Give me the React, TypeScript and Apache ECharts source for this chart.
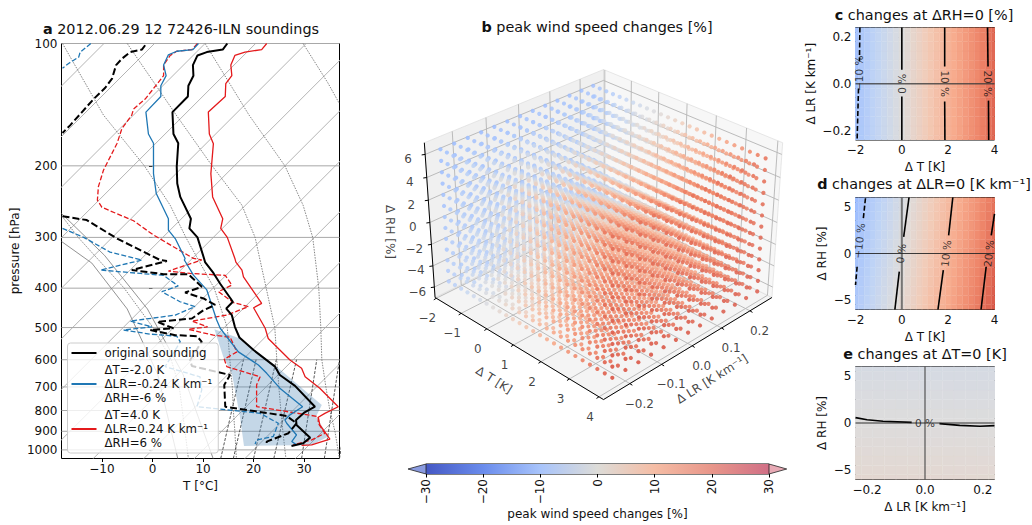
import React, { useEffect, useRef } from "react";
import * as echarts from "echarts";

// ---------- panel a: values read from the skew-T (x = position on the T axis, p = pressure) ----------
const pressureLevels = [100, 200, 300, 400, 500, 600, 700, 800, 900, 1000];
const tTicks = [-10, 0, 10, 20, 30];
const isotherms = [-110, -100, -90, -80, -70, -60, -50, -40, -30, -20, -10, 0, 10, 20, 30, 40];

const obsTP = [100,103.5,105,107,113,120,127,135,147.5,167,176,201,221,238.5,270,285,300,338,345,367,390,432,449,466,498,529,568,624,654,696,783,810,844,868,933,963,978];
const obsTX = [14.8,13.9,10.75,8.9,8,8.1,7.1,7,3.95,4.15,5.1,4.8,4.9,5.5,7.6,7.3,8.9,10.2,10.4,12.05,13.4,15.9,14.6,15.7,16.3,17.2,20,24.25,25.2,28.2,32.15,30,28.4,28.5,31.2,29.8,27.5];

const obsDP1 = [101,103.5,105,109,113,122,128.5,137,147.5,159,166];
const obsDX1 = [-1.45,-2.1,-4.4,-6.05,-7.2,-8,-9.35,-11.65,-13.95,-16.3,-17.8];
const obsDP2 = [266,272,302,341,343,361,369.5,369.5,397,410,424,440,453,475,484,502,507,522,525,542,601,622,654,692,783,825,860,910,954,972];
const obsDX2 = [-17.8,-13,-7,1.5,2.85,-4.1,2.2,7.1,9.75,6.45,10.1,12.4,10.1,7.8,0.9,4.15,-0.45,4.5,8.8,9.75,7.45,7.8,15.35,14.2,14.4,26.55,28.5,26.9,22.6,22.6];

const coolTP = [100,103.5,104.5,106.6,113,120,127,135,147.5,167,176,209,234,270,288,302,338,341,371.6,404,479,502,574,618,648,705,783,820,844,860,919,954,972];
const coolTX = [9.1,8,4.8,3.15,2.2,2.7,1.65,1.65,-1.3,-0.8,0.2,0.2,0.75,3.15,3.15,4.5,6.45,6.3,8.1,10.75,12.7,13.4,17,20.95,22.6,25.2,29.7,27.2,26.2,26.55,28.5,27.55,28.5];

const coolDP1 = [100,105,108,112,115];
const coolDX1 = [-12.2,-14.3,-14.6,-16.6,-17.8];
const coolDP2 = [285,300,326,341,361,368,372,395,408,432,444,466,482,498,507,519,525,542,624,661,712,783,813,860,927,945,968];
const coolDX2 = [-17.8,-13.6,-8.4,-2.1,-10.3,-2.4,2.2,5.1,1.85,5.45,8.4,4.5,-4.4,-0.1,-5.7,-0.45,4.8,5.5,2.5,9.4,9.75,8.8,21.3,24.9,23.9,20.6,20.3];

const warmTP = [100,103.5,105,107,113,120,125.6,135,147.5,167,176.4,209,238.5,270,285,300,338,345,361,375,436,447,502,532,601,630,661,705,783,813,831,868,941,972,975];
const warmTX = [22.6,21.6,18.3,16.3,15.5,15.7,14.5,14.4,11.05,11.25,12.05,11.55,11.9,13.9,13.5,14.8,16.3,16.5,17.7,18,21.6,20,22.3,22.9,27.2,29.5,30.2,33.1,36.75,34.1,32.8,33.1,35.1,31.5,29.5];

const warmDP = [100,103.5,104.5,107,113,120,130.5,137,145,150,162,176,205,225,243,253,273,296,338,341,363,368,372,393,408,434,444,466,482,498,505,522,528,574,598,624,661,692,783,828,860,910,945,972];
const warmDX = [8.9,7.8,4.8,3.5,2.2,2.2,-0.1,-1.45,-3.75,-4.1,-6.05,-7,-9.7,-10.7,-10.9,-10,-3.75,0.2,8.1,9.75,3.15,7.45,14.4,15.7,13.05,16,19,14.7,7.8,10.9,7.1,12.05,15.35,16.7,14.2,14.7,21.3,20.6,20.6,32.8,32.8,34.1,31.5,27.85];

const shadeP = [505,532,624,775,828,927,972,978,828,648,590];
const shadeX = [12.25,17.3,24.6,33.5,32.35,34.8,31.5,18.1,17.3,15.7,14];

const arcP = [100,150,200,250,300,400,500,600,700,800,900,1000,1050];
const arc1X = [-17.8,-9.7,-1.6,3.5,6.6,12.2,14.8,15.3,15.8,16,16.3,16.5,16.6];
const arc2X = [-5,4.7,11.8,17.7,20.3,22.5,24.2,24.6,25,25.4,25.8,26.2,26.4];
const arc3X = [10.4,19.1,26.2,29.8,31.7,32.9,33.3,33.5,34.3,35.1,36.1,36.7,37];
const arc4P = [266,300,400,500,600,700,800,1000,1050];
const arc4X = [-17.9,-14.7,-5.6,0.1,3.7,5.3,5.9,6.9,7.1];
const arc5P = [100,125,140];
const arc5X = [29.8,34.7,36.9];

const dryAP = [262,332,450,650,1050];
const dryAX = [-18,-9.5,-1,6,12];
const dryBP = [307,347,450,650,1050];
const dryBX = [-18,-12,-5,1,5];

const mixBottomX = [13.5, 16, 20, 24, 29.5, 34, 37];
const mixTopX = [18, 20.5, 24.5, 28.5, 32.5, 37, 40];
const mixP = [1050, 600];

const legendObs = "original sounding";
const legendCool = "ΔT=-2.0 K\nΔLR=-0.24 K km⁻¹\nΔRH=-6 %";
const legendWarm = "ΔT=4.0 K\nΔLR=0.24 K km⁻¹\nΔRH=6 %";

// ---------- panels b–e: the perturbation grid and the change at each level ----------
const tLevels = [-2,-1.75,-1.5,-1.25,-1,-0.75,-0.5,-0.25,0,0.25,0.5,0.75,1,1.25,1.5,1.75,2,2.25,2.5,2.75,3,3.25,3.5,3.75,4];
const tChange = [-10.5,-9.2,-7.9,-6.6,-5.3,-4,-2.7,-1.3,0,1.35,2.7,4.05,5.4,6.75,8.1,9.45,10.8,12.1,13.4,14.7,16,17.3,18.6,20,21.3];
const lrLevels = [-0.24,-0.2,-0.16,-0.12,-0.08,-0.04,0,0.04,0.08,0.12,0.16,0.2,0.24];
const lrChange = [0.13,0.09,0.06,0.04,0.03,0.01,0,-0.01,-0.03,-0.05,-0.07,-0.09,-0.08];
const rhLevels = [-6,-5,-4,-3,-2,-1,0,1,2,3,4,5,6];
const rhChange = [1.65,1.4,1.1,0.8,0.55,0.25,0,-0.25,-0.55,-0.8,-1.1,-1.35,-1.65];

const boxT = [-2.05, 4.15];
const boxLR = [-0.28, 0.28];
const boxRH = [-7, 7];
const tTicks3d = [-2, -1, 0, 1, 2, 3, 4];
const lrTicks3d = [-0.2, -0.1, 0, 0.1, 0.2];
const rhTicks3d = [-6, -4, -2, 0, 2, 4, 6];

const cbarValues = [-30, -20, -10, 0, 10, 20, 30];
const cbarColors = ["#4558c4", "#6a8cec", "#a8c4fb", "#dddcd8", "#f5bda5", "#e8968a", "#d06f86"];

const coolwarmStops = ["#3b4cc0","#5977e3","#7b9ff9","#9ebeff","#c0d4f5","#dddcdc","#f2cbb7","#f7ac8e","#ee8468","#d65244","#b40426"];

// contour lines, [T or LR, LR or RH]
const cMinus10a = [[-1.81,0.24],[-1.83,0.095]];
const cMinus10b = [[-1.87,-0.02],[-1.93,-0.24]];
const c0a = [[0,0.24],[0,0.06]];
const c0b = [[0,-0.054],[0,-0.24]];
const c10a = [[1.85,0.24],[1.85,0.074]];
const c10b = [[1.85,-0.076],[1.86,-0.24]];
const c20a = [[3.7,0.24],[3.72,0.074]];
const c20b = [[3.74,-0.072],[3.75,-0.24]];
const dMinus10a = [[-1.57,5.92],[-1.67,3.55]];
const dMinus10b = [[-1.93,-1.42],[-2,-3.37]];
const d0a = [[0.31,6],[0.08,1.77]];
const d0b = [[-0.11,-1.95],[-0.3,-6]];
const d10a = [[2.2,6],[2.02,1.95]];
const d10b = [[1.79,-1.77],[1.56,-6]];
const d20a = [[4,4.25],[3.86,1.95]];
const d20b = [[3.64,-1.42],[3.42,-6]];
const e0a = [[-0.24,0.57],[-0.2,0.35],[-0.145,0.18],[-0.046,0.07]];
const e0b = [[0.05,-0.07],[0.12,-0.25],[0.19,-0.35],[0.24,-0.28]];

const cLabels = [{ name: "−10 %", value: [-1.84, 0.045], rotate: 90 }, { name: "0 %", value: [0, 0], rotate: 90 }, { name: "10 %", value: [1.85, 0], rotate: -90 }, { name: "20 %", value: [3.73, 0], rotate: -90 }];
const dLabels = [{ name: "−10 %", value: [-1.84, 1.35], rotate: 84 }, { name: "0 %", value: [-0.04, 0], rotate: 84 }, { name: "10 %", value: [1.9, 0], rotate: 84 }, { name: "20 %", value: [3.75, 0], rotate: 84 }];
const eLabels = [{ name: "0 %", value: [0, 0.05], rotate: 0 }];

// ---------- helpers ----------
const FONT = "DejaVu Sans";
const FS = 12;
const SKEW = 80.4; // axis units per decade of pressure: isotherms at 45 degrees

const hex = (c: string) => [1, 3, 5].map((i) => parseInt(c.slice(i, i + 2), 16));
function coolwarm(v: number) {
  const f = Math.max(0, Math.min(0.99999, (v + 30) / 60)) * (coolwarmStops.length - 1);
  const i = Math.floor(f);
  const a = hex(coolwarmStops[i]);
  const b = hex(coolwarmStops[i + 1]);
  return `rgb(${a.map((x, k) => Math.round(x + (b[k] - x) * (f - i))).join(",")})`;
}

function project(T: number, LR: number, RH: number) {
  const X = (T - boxT[0]) / (boxT[1] - boxT[0]) - 0.5;
  const Y = (LR - boxLR[0]) / (boxLR[1] - boxLR[0]) - 0.5;
  const Z = (RH - boxRH[0]) / (boxRH[1] - boxRH[0]) - 0.5;
  const a = 0.1697, q = 0.1234, S = 0.5, c = 0.866, F = 1447;
  const xc = 0.7071 * (X + Y) * a;
  const yc = 0.7071 * S * (Y - X) * a + c * Z * q;
  const n = 0.7071 * c * (X - Y) * a + S * Z * q;
  return { x: 603.5 + (F * xc) / (1 - n), y: 222.5 - (F * yc) / (1 - n), depth: n };
}
const pr = (T: number, LR: number, RH: number) => {
  const p = project(T, LR, RH);
  return [p.x, p.y];
};

const zip = (xs: number[], ps: number[]) => xs.map((x, i) => [x, Math.log10(ps[i])]);
const skewLine = (xs: number[], ps: number[], color: string, width: number, type: any, z: number, name?: string) => ({
  type: "line", name, xAxisIndex: 0, yAxisIndex: 0, symbol: "none", silent: true, z,
  data: zip(xs, ps),
  itemStyle: { color },
  lineStyle: { color, width, type },
});

const contour = (panel: number, pts: number[][], dashed = false) => ({
  type: "line", xAxisIndex: panel, yAxisIndex: panel, symbol: "none", silent: true, z: 5,
  data: pts, lineStyle: { color: "#000", width: 1.6, type: dashed ? [5, 2.5] : "solid" },
});
const cross = (panel: number, pts: number[][], color: string, width: number) => ({
  type: "line", xAxisIndex: panel, yAxisIndex: panel, symbol: "none", silent: true, z: 6,
  data: pts, lineStyle: { color, width },
});
const contourLabels = (panel: number, items: any[]) => ({
  type: "scatter", xAxisIndex: panel, yAxisIndex: panel, symbolSize: 0, silent: true, z: 7,
  data: items.map((d) => ({
    name: d.name, value: d.value,
    label: { show: true, position: "inside", formatter: d.name, rotate: d.rotate, fontSize: 10.5, color: "#111", fontFamily: FONT },
  })),
});
const heat = (panel: number, xs: number[], ys: number[], value: (i: number, j: number) => number) => {
  const data: number[][] = [];
  xs.forEach((x, i) => ys.forEach((y, j) => data.push([x, y, value(i, j)])));
  const dx = xs[1] - xs[0], dy = ys[1] - ys[0];
  return {
    type: "custom", xAxisIndex: panel, yAxisIndex: panel, silent: true, z: 2, clip: true, data,
    encode: { x: 0, y: 1 },
    renderItem: (_: any, api: any) => {
      const x = api.value(0), y = api.value(1);
      const p0 = api.coord([x - dx / 2, y + dy / 2]);
      const p1 = api.coord([x + dx / 2, y - dy / 2]);
      const col = coolwarm(api.value(2));
      return { type: "rect", shape: { x: p0[0], y: p0[1], width: p1[0] - p0[0], height: p1[1] - p0[1] }, style: { fill: col, stroke: col, lineWidth: 0.3 } };
    },
  };
};
const segments3d = (segs: number[][][], color: string, width: number, z: number) => ({
  type: "custom", xAxisIndex: 1, yAxisIndex: 1, silent: true, z,
  data: segs.map((s) => [s[0][0], s[0][1], s[1][0], s[1][1]]),
  encode: { x: [0, 2], y: [1, 3] },
  renderItem: (_: any, api: any) => {
    const a = api.coord([api.value(0), api.value(1)]);
    const b = api.coord([api.value(2), api.value(3)]);
    return { type: "line", shape: { x1: a[0], y1: a[1], x2: b[0], y2: b[1] }, style: { stroke: color, lineWidth: width } };
  },
});
const polygon3d = (pts: number[][], fill: string, z: number) => ({
  type: "custom", xAxisIndex: 1, yAxisIndex: 1, silent: true, z, data: pts, encode: { x: 0, y: 1 },
  renderItem: (params: any, api: any) =>
    params.dataIndex === 0
      ? { type: "polygon", shape: { points: pts.map((p) => api.coord(p)) }, style: { fill, stroke: "#d8d8d8", lineWidth: 0.6 } }
      : null,
});
const text3d = (items: any[]) => ({
  type: "scatter", xAxisIndex: 1, yAxisIndex: 1, symbolSize: 0, silent: true, z: 9,
  data: items.map((d) => ({
    name: d.name, value: d.value,
    label: { show: true, position: "inside", formatter: d.name, rotate: d.rotate || 0, fontSize: FS, color: "#111", fontFamily: FONT },
  })),
});

const minus = (s: string) => s.replace("-", "−");
const num0 = (v: number) => minus(String(Math.round(v)));
const num1 = (v: number) => minus(v.toFixed(1));

const axisBase = (extra: any) => ({
  type: "value", splitLine: { show: false }, axisLine: { show: false },
  axisTick: { show: true, length: 3.5, lineStyle: { color: "#000", width: 1 } },
  nameTextStyle: { color: "#111", fontFamily: FONT, fontSize: FS },
  nameLocation: "middle",
  ...extra,
  axisLabel: { color: "#111", fontFamily: FONT, fontSize: FS, margin: 4, ...(extra.axisLabel || {}) },
});
const ticksAt = (values: number[]) => ({ length: 3.5, show: true, customValues: values, lineStyle: { color: "#000", width: 1 } });

function buildOption() {
  const series: any[] = [];

  // ---- panel a ----
  isotherms.forEach((t) => {
    series.push(skewLine([t + SKEW * Math.log10(1000 / 1050), t + SKEW], [1050, 100], "#b4b4b4", 1, "solid", 1));
  });
  pressureLevels.forEach((p) => series.push(skewLine([-18, 37], [p, p], "#a8a8a8", 1, "solid", 1)));
  [[arc1X, arcP], [arc2X, arcP], [arc3X, arcP], [arc4X, arc4P], [arc5X, arc5P]].forEach(([x, p]) =>
    series.push(skewLine(x, p, "#777", 0.9, [1.5, 1.2], 1))
  );
  series.push(skewLine(dryAX, dryAP, "#777", 0.8, "solid", 1), skewLine(dryBX, dryBP, "#777", 0.8, "solid", 1));
  mixBottomX.forEach((x, i) => series.push(skewLine([x, mixTopX[i]], mixP, "#444", 0.9, [3, 1.5], 1)));
  series.push({
    type: "custom", xAxisIndex: 0, yAxisIndex: 0, silent: true, z: 1.5, clip: true,
    data: zip(shadeX, shadeP), encode: { x: 0, y: 1 },
    renderItem: (params: any, api: any) =>
      params.dataIndex === 0
        ? { type: "polygon", shape: { points: zip(shadeX, shadeP).map((p) => api.coord(p)) }, style: { fill: "rgba(70,130,180,0.32)" } }
        : null,
  });
  series.push(
    skewLine(warmDX, warmDP, "#e41a1c", 1.3, [5, 2.2], 2.2),
    skewLine(warmTX, warmTP, "#e41a1c", 1.3, "solid", 2.2, legendWarm),
    skewLine(coolDX1, coolDP1, "#1f77b4", 1.3, [5, 2.2], 2.3),
    skewLine(coolDX2, coolDP2, "#1f77b4", 1.3, [5, 2.2], 2.3),
    skewLine(coolTX, coolTP, "#1f77b4", 1.3, "solid", 2.3, legendCool),
    skewLine(obsDX1, obsDP1, "#000", 2, [7, 3], 2.4),
    skewLine(obsDX2, obsDP2, "#000", 2, [7, 3], 2.4),
    skewLine(obsTX, obsTP, "#000", 2, "solid", 2.4, legendObs)
  );

  // ---- panel b ----
  const [t0, t1] = boxT, [l0, l1] = boxLR, [r0, r1] = boxRH;
  series.push(polygon3d([pr(t0, l0, r0), pr(t1, l0, r0), pr(t1, l1, r0), pr(t0, l1, r0)], "#f4f4f4", 2));
  series.push(polygon3d([pr(t0, l0, r0), pr(t0, l1, r0), pr(t0, l1, r1), pr(t0, l0, r1)], "#f0f0f0", 2));
  series.push(polygon3d([pr(t0, l1, r0), pr(t1, l1, r0), pr(t1, l1, r1), pr(t0, l1, r1)], "#f7f7f7", 2));
  const grid3: number[][][] = [];
  tTicks3d.forEach((t) => {
    grid3.push([pr(t, l0, r0), pr(t, l1, r0)], [pr(t, l1, r0), pr(t, l1, r1)]);
  });
  lrTicks3d.forEach((l) => {
    grid3.push([pr(t0, l, r0), pr(t1, l, r0)], [pr(t0, l, r0), pr(t0, l, r1)]);
  });
  rhTicks3d.forEach((r) => {
    grid3.push([pr(t0, l0, r), pr(t0, l1, r)], [pr(t0, l1, r), pr(t1, l1, r)]);
  });
  series.push(segments3d(grid3, "#b4b4b4", 0.9, 3));
  const axes3: number[][][] = [
    [pr(t0, l0, r0), pr(t0, l0, r1)],
    [pr(t0, l0, r0), pr(t1, l0, r0)],
    [pr(t1, l0, r0), pr(t1, l1, r0)],
  ];
  const labels3: any[] = [];
  tTicks3d.forEach((t) => {
    const p = pr(t, l0, r0);
    axes3.push([p, [p[0] - 2.5, p[1] + 1.6]]);
    labels3.push({ name: num0(t), value: [p[0] - 9, p[1] + 20] });
  });
  lrTicks3d.forEach((l) => {
    const p = pr(t1, l, r0);
    axes3.push([p, [p[0] + 2.5, p[1] + 1.6]]);
    labels3.push({ name: num1(l), value: [p[0] + 9.5, p[1] + 20] });
  });
  rhTicks3d.forEach((r) => {
    const p = pr(t0, l0, r);
    axes3.push([p, [p[0] - 3.5, p[1] + 0.5]]);
    labels3.push({ name: num0(r), value: [p[0] - 17, p[1] + 4.5] });
  });
  series.push(segments3d(axes3, "#000", 1, 4));
  labels3.push(
    { name: "Δ T [K]", value: [494, 380], rotate: -32 },
    { name: "Δ LR [K km⁻¹]", value: [712, 379], rotate: 32 },
    { name: "Δ RH [%]", value: [390, 232], rotate: -90 }
  );
  series.push(text3d(labels3));

  const cloud: any[] = [];
  tLevels.forEach((t, i) =>
    lrLevels.forEach((l, j) =>
      rhLevels.forEach((r, k) => {
        const p = project(t, l, r);
        cloud.push({ p, v: tChange[i] + lrChange[j] + rhChange[k] });
      })
    )
  );
  cloud.sort((a, b) => a.p.depth - b.p.depth);
  const dMin = cloud[0].p.depth, dMax = cloud[cloud.length - 1].p.depth;
  series.push({
    type: "scatter", xAxisIndex: 1, yAxisIndex: 1, symbol: "circle", symbolSize: 4.2, silent: true, z: 5,
    large: false, progressive: 0,
    data: cloud.map((c) => ({
      value: [c.p.x, c.p.y],
      itemStyle: { color: coolwarm(c.v), opacity: 0.72 + (0.28 * (c.p.depth - dMin)) / (dMax - dMin) },
    })),
  });

  // ---- colour bar ----
  series.push({
    type: "custom", xAxisIndex: 2, yAxisIndex: 2, silent: true, z: 2, data: [[-30, 0], [30, 1]], encode: { x: 0, y: 1 },
    renderItem: (params: any, api: any) => {
      if (params.dataIndex !== 0) return null;
      const a = api.coord([-30, 1]), b = api.coord([30, 0]);
      const tipL = api.coord([-33.15, 0.5]), tipR = api.coord([33.1, 0.5]);
      return {
        type: "group",
        children: [
          {
            type: "rect", shape: { x: a[0], y: a[1], width: b[0] - a[0], height: b[1] - a[1] },
            style: {
              fill: new echarts.graphic.LinearGradient(0, 0, 1, 0, cbarValues.map((v, i) => ({ offset: (v + 30) / 60, color: cbarColors[i] }))),
            },
          },
          { type: "polygon", shape: { points: [[a[0], a[1]], tipL, [a[0], b[1]]] }, style: { fill: "#8a9be0", stroke: "#222", lineWidth: 0.8 } },
          { type: "polygon", shape: { points: [[b[0], a[1]], tipR, [b[0], b[1]]] }, style: { fill: "#e8aab5", stroke: "#222", lineWidth: 0.8 } },
        ],
      };
    },
  });

  // ---- panels c, d, e ----
  const iT0 = tLevels.indexOf(0), iL0 = lrLevels.indexOf(0), iR0 = rhLevels.indexOf(0);
  series.push(heat(3, tLevels, lrLevels, (i, j) => tChange[i] + lrChange[j] + rhChange[iR0]));
  series.push(heat(4, tLevels, rhLevels, (i, k) => tChange[i] + lrChange[iL0] + rhChange[k]));
  series.push(heat(5, lrLevels, rhLevels, (j, k) => tChange[iT0] + lrChange[j] + rhChange[k]));
  series.push(
    contour(3, cMinus10a, true), contour(3, cMinus10b, true), contour(3, c0a), contour(3, c0b),
    contour(3, c10a), contour(3, c10b), contour(3, c20a), contour(3, c20b),
    contour(4, dMinus10a, true), contour(4, dMinus10b, true), contour(4, d0a), contour(4, d0b),
    contour(4, d10a), contour(4, d10b), contour(4, d20a), contour(4, d20b),
    contour(5, e0a), contour(5, e0b),
    cross(3, [[-2, 0], [4, 0]], "rgba(60,60,60,0.8)", 1.5),
    cross(4, [[0, -6], [0, 6]], "rgba(90,90,90,0.8)", 2),
    cross(4, [[-2, 0], [4, 0]], "rgba(40,40,40,0.9)", 1),
    cross(5, [[0, -6], [0, 6]], "rgba(70,70,70,0.9)", 1.2),
    cross(5, [[-0.24, 0], [0.24, 0]], "rgba(30,30,30,0.9)", 1),
    contourLabels(3, cLabels), contourLabels(4, dLabels), contourLabels(5, eLabels)
  );

  const frame = { show: true, borderColor: "#000", borderWidth: 1, backgroundColor: "transparent" };
  const titleStyle = (size: number) => ({
    fontFamily: FONT, fontSize: size, color: "#111", fontWeight: "normal",
    rich: { b: { fontFamily: FONT, fontSize: size, fontWeight: "bold", color: "#111" }, n: { fontFamily: FONT, fontSize: size, color: "#111" } },
  });
  const title = (text: string, left: number, top: number, size = 14.4) => ({
    text, left, top, textAlign: "center", padding: 0, textStyle: titleStyle(size),
  });

  return {
    animation: false,
    textStyle: { fontFamily: FONT },
    title: [
      title("{b|a}{n| 2012.06.29 12 72426-ILN soundings}", 181, 21.5),
      title("{b|b}{n| peak wind speed changes [%]}", 597, 20),
      title("{b|c}{n| changes at ΔRH=0 [%]}", 924, 8),
      title("{b|d}{n| changes at ΔLR=0 [K km⁻¹]}", 924, 177),
      title("{b|e}{n| changes at ΔT=0 [K]}", 925, 347),
    ],
    legend: {
      data: [legendObs, legendCool, legendWarm].map((name) => ({ name, icon: "rect" })),
      orient: "vertical", left: 67.5, top: 343, itemWidth: 25, itemHeight: 2, itemGap: 3,
      padding: [3, 6, 3, 4], backgroundColor: "rgba(255,255,255,0.8)", borderColor: "#ccc", borderWidth: 1, borderRadius: 3,
      selectedMode: false, z: 20,
      textStyle: { fontFamily: FONT, fontSize: 11.8, color: "#111", lineHeight: 14, padding: [0, 0, 0, 3] },
    },
    grid: [
      { left: 61.5, top: 43.5, width: 278, height: 415, ...frame },
      { left: 370, top: 40, width: 420, height: 400, show: false },
      { left: 426, top: 464, width: 343, height: 10, ...frame },
      { left: 855.5, top: 27.5, width: 139, height: 112.5, ...frame },
      { left: 855.5, top: 197.5, width: 139, height: 112, ...frame },
      { left: 855.5, top: 366.5, width: 139, height: 113, ...frame },
    ],
    xAxis: [
      axisBase({ gridIndex: 0, min: -18, max: 37, name: "T [°C]", nameGap: 21, axisTick: ticksAt(tTicks), axisLabel: { customValues: tTicks, formatter: num0 } }),
      { type: "value", gridIndex: 1, min: 370, max: 790, show: false },
      axisBase({ gridIndex: 2, min: -30, max: 30, interval: 10, name: "peak wind speed changes [%]", nameGap: 34, axisLabel: { rotate: 90, formatter: num0, margin: 5 } }),
      axisBase({ gridIndex: 3, min: -2, max: 4, interval: 2, name: "Δ T [K]", nameGap: 21, axisLabel: { formatter: num0 } }),
      axisBase({ gridIndex: 4, min: -2, max: 4, interval: 2, name: "Δ T [K]", nameGap: 21, axisLabel: { formatter: num0 } }),
      axisBase({ gridIndex: 5, min: -0.24, max: 0.24, name: "Δ LR [K km⁻¹]", nameGap: 21, axisTick: ticksAt([-0.2, 0, 0.2]), axisLabel: { customValues: [-0.2, 0, 0.2], formatter: num1 } }),
    ],
    yAxis: [
      axisBase({
        gridIndex: 0, min: 2, max: Math.log10(1050), inverse: true, name: "pressure [hPa]", nameGap: 41,
        axisTick: ticksAt(pressureLevels.map((p) => Math.log10(p))),
        axisLabel: { customValues: pressureLevels.map((p) => Math.log10(p)), formatter: (v: number) => String(Math.round(Math.pow(10, v))) },
      }),
      { type: "value", gridIndex: 1, min: 40, max: 440, inverse: true, show: false },
      { type: "value", gridIndex: 2, min: 0, max: 1, show: false },
      axisBase({ gridIndex: 3, min: -0.24, max: 0.24, name: "Δ LR [K km⁻¹]", nameGap: 39, axisTick: ticksAt([-0.2, 0, 0.2]), axisLabel: { customValues: [-0.2, 0, 0.2], formatter: num1 } }),
      axisBase({ gridIndex: 4, min: -6, max: 6, name: "Δ RH [%]", nameGap: 28, axisTick: ticksAt([-5, 0, 5]), axisLabel: { customValues: [-5, 0, 5], formatter: num0 } }),
      axisBase({ gridIndex: 5, min: -6, max: 6, name: "Δ RH [%]", nameGap: 28, axisTick: ticksAt([-5, 0, 5]), axisLabel: { customValues: [-5, 0, 5], formatter: num0 } }),
    ],
    series,
  };
}

export default function App() {
  const ref = useRef<HTMLDivElement>(null);
  useEffect(() => {
    document.body.style.margin = "0";
    const chart = echarts.init(ref.current!, undefined, { renderer: "svg" });
    chart.setOption(buildOption() as any);
    return () => chart.dispose();
  }, []);
  return <div ref={ref} style={{ width: 1032, height: 525 }} />;
}
